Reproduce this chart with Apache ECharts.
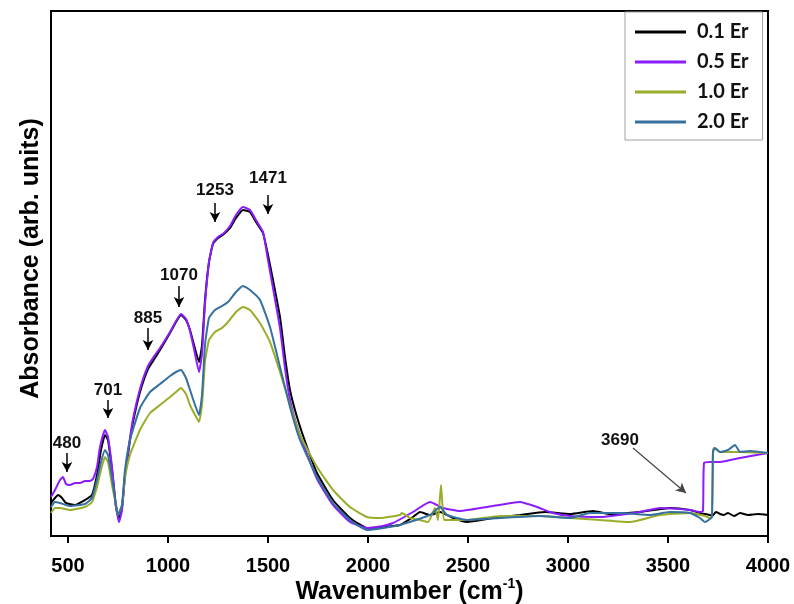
<!DOCTYPE html>
<html>
<head>
<meta charset="utf-8">
<script src="https://cdn.jsdelivr.net/npm/echarts@6/dist/echarts.min.js"></script>
<style>
  html, body { margin: 0; padding: 0; background: #fff; }
  #chart { width: 794px; height: 604px; }
</style>
</head>
<body>
<div id="chart"></div>
<script>
// FTIR spectra, [wavenumber, absorbance (arb. units)]
var er01 = [
  [415, 33], [435, 38], [450, 41], [470, 38], [490, 33], [535, 31], [585, 36], [620, 41],
  [645, 61], [665, 86], [685, 101], [700, 96], [720, 66], [740, 29], [755, 18], [770, 28],
  [785, 61], [795, 74], [810, 96], [825, 114], [860, 144], [900, 167], [935, 178], [960, 186],
  [1010, 203], [1040, 214], [1065, 221], [1090, 216], [1110, 206], [1130, 191], [1155, 174],
  [1170, 191], [1185, 236], [1205, 274], [1225, 292], [1250, 298], [1280, 302], [1310, 308],
  [1340, 318], [1375, 326], [1410, 324], [1440, 314], [1475, 303], [1500, 281], [1525, 256],
  [1560, 219], [1585, 179], [1610, 146], [1645, 119], [1695, 89], [1745, 63], [1825, 36],
  [1910, 18], [1995, 8], [2075, 9], [2160, 11], [2225, 19], [2260, 24], [2310, 21], [2360, 24],
  [2425, 18], [2495, 14], [2625, 18], [2760, 21], [2885, 24], [3010, 22], [3125, 25], [3210, 22],
  [3360, 24], [3510, 28], [3610, 26], [3660, 23], [3710, 21], [3720, 20], [3740, 24], [3760, 22],
  [3780, 21], [3800, 23], [3830, 20], [3860, 23], [3900, 21], [3950, 22], [4000, 21]
];
var er05 = [
  [415, 39], [435, 46], [460, 56], [475, 59], [490, 52], [510, 51], [535, 53], [560, 53],
  [585, 55], [610, 55], [625, 57], [645, 69], [660, 89], [685, 106], [700, 99], [720, 69],
  [740, 29], [755, 14], [770, 26], [785, 61], [795, 76], [810, 98], [825, 117], [860, 147],
  [900, 170], [935, 181], [960, 188], [1010, 204], [1040, 215], [1065, 222], [1090, 217],
  [1110, 205], [1130, 187], [1155, 164], [1170, 182], [1185, 232], [1205, 274], [1225, 293],
  [1250, 299], [1280, 303], [1310, 310], [1340, 321], [1375, 329], [1410, 326], [1440, 316],
  [1475, 304], [1500, 276], [1525, 248], [1560, 208], [1585, 168], [1610, 136], [1645, 110],
  [1695, 82], [1745, 57], [1825, 31], [1910, 14], [1995, 8], [2075, 10], [2125, 13], [2225, 24],
  [2310, 34], [2375, 28], [2460, 25], [2595, 29], [2760, 34], [2845, 29], [2925, 23], [3010, 20],
  [3160, 19], [3360, 24], [3460, 28], [3610, 26], [3660, 24], [3675, 25], [3680, 73], [3710, 74],
  [3760, 74], [3860, 78], [4000, 83]
];
var er10 = [
  [415, 23], [435, 28], [460, 28], [510, 26], [585, 29], [620, 34], [645, 49], [665, 66],
  [685, 79], [700, 74], [720, 51], [740, 31], [750, 21], [770, 31], [785, 58], [810, 81],
  [860, 106], [910, 123], [960, 131], [1010, 139], [1040, 144], [1065, 148], [1090, 142],
  [1110, 131], [1135, 121], [1155, 114], [1170, 131], [1185, 174], [1205, 196], [1235, 204],
  [1270, 208], [1300, 214], [1340, 224], [1375, 229], [1410, 226], [1460, 213], [1510, 194],
  [1560, 164], [1610, 131], [1660, 101], [1745, 69], [1825, 46], [1910, 29], [1995, 19],
  [2060, 18], [2160, 21], [2170, 23], [2210, 18], [2260, 16], [2300, 14], [2335, 28], [2350, 16],
  [2365, 51], [2380, 16], [2410, 16], [2495, 16], [2660, 20], [2860, 20], [3010, 18], [3160, 16],
  [3310, 14], [3460, 21], [3610, 23], [3685, 20], [3710, 18], [3720, 18], [3725, 86], [3730, 88],
  [3760, 84], [3860, 84], [4000, 83]
];
var er20 = [
  [415, 29], [435, 34], [460, 33], [510, 30], [585, 32], [620, 38], [645, 56], [665, 74],
  [685, 86], [700, 81], [720, 58], [740, 31], [750, 21], [770, 31], [785, 66], [810, 96],
  [860, 128], [910, 144], [960, 152], [1010, 160], [1040, 164], [1065, 166], [1090, 158],
  [1110, 146], [1135, 131], [1155, 121], [1170, 141], [1185, 191], [1205, 218], [1235, 226],
  [1270, 230], [1300, 234], [1340, 244], [1375, 250], [1410, 246], [1460, 236], [1510, 209],
  [1560, 169], [1610, 129], [1660, 96], [1745, 59], [1825, 33], [1910, 16], [1995, 6],
  [2160, 11], [2310, 21], [2360, 29], [2395, 21], [2495, 16], [2660, 18], [2860, 20], [3010, 18],
  [3110, 23], [3260, 23], [3410, 21], [3510, 24], [3610, 23], [3660, 18], [3685, 14], [3710, 17],
  [3720, 19], [3725, 84], [3735, 88], [3760, 84], [3800, 86], [3835, 91], [3860, 84], [3910, 85],
  [4000, 83]
];

var seriesNames = ['0.1 Er', '0.5 Er', '1.0 Er', '2.0 Er'];
var seriesColors = ['#000000', '#8a1cff', '#9aad2a', '#35709f'];
var xTicks = [500, 1000, 1500, 2000, 2500, 3000, 3500, 4000];

// peak annotations: label, x, label y, arrow from y, arrow to y
var peakLabels = ['480', '701', '885', '1070', '1253', '1471'];
var peakX = [495, 700, 900, 1055, 1235, 1500];
var peakLabelY = [93, 146, 218, 261, 346, 358];
var peakArrowTop = [83, 136, 208, 250, 333, 341];
var peakArrowBottom = [64, 118, 186, 229, 314, 322];
// 3690 annotation: label position and slanted arrow
var oh = { label: '3690', at: [3260, 96], from: [3325, 88], to: [3590, 43] };

var myChart = echarts.init(document.getElementById('chart'));

var arrowData = peakX.map(function (x, i) {
  return [{ coord: [x, peakArrowTop[i]] }, { coord: [x, peakArrowBottom[i]] }];
});
arrowData.push([{ coord: oh.from, lineStyle: { color: '#444', width: 1.2 } }, { coord: oh.to }]);

var labelData = peakX.map(function (x, i) {
  return { value: [x, peakLabelY[i]], label: { formatter: peakLabels[i] } };
});
labelData.push({ value: oh.at, label: { formatter: oh.label } });

var lines = [er01, er05, er10, er20].map(function (d, i) {
  return {
    name: seriesNames[i],
    type: 'line',
    data: d,
    showSymbol: false,
    symbol: 'none',
    smooth: 0.15,
    lineStyle: { color: seriesColors[i], width: 2 },
    itemStyle: { color: seriesColors[i] },
    z: 2 + i
  };
});

var option = {
  animation: false,
  grid: {
    left: 51, right: 26, top: 11, bottom: 68,
    outerBoundsMode: 'none',
    containLabel: false,
    show: true, borderColor: '#000', borderWidth: 2
  },
  legend: {
    data: seriesNames,
    orient: 'vertical',
    left: 625, top: 12,
    icon: 'rect',
    itemWidth: 51, itemHeight: 3,
    itemGap: 10,
    padding: [10, 14, 8, 10],
    backgroundColor: '#fff',
    borderColor: '#a0a0a0',
    borderWidth: 1,
    textStyle: { fontFamily: 'Lato', fontWeight: 'bold', fontSize: 20, color: '#111', padding: [0, 0, 0, 6] }
  },
  xAxis: {
    type: 'value',
    min: 415, max: 4000,
    name: '{b|Wavenumber (cm}{s|-1}{b|)}',
    nameLocation: 'middle',
    nameGap: 41,
    nameMoveOverlap: false,
    nameTextStyle: {
      rich: {
        b: { fontFamily: 'Liberation Sans', fontWeight: 'bold', fontSize: 25, color: '#000' },
        s: { fontFamily: 'Liberation Sans', fontWeight: 'bold', fontSize: 14, color: '#000', padding: [0, 0, 16, 0] }
      }
    },
    splitLine: { show: false },
    axisLine: { lineStyle: { color: '#000', width: 2 } },
    axisTick: { customValues: xTicks, length: 7, lineStyle: { color: '#000', width: 2 } },
    axisLabel: {
      customValues: xTicks, margin: 20,
      formatter: function (v) { return String(v); },
      fontFamily: 'Liberation Sans', fontWeight: 'bold', fontSize: 20, color: '#000'
    }
  },
  yAxis: {
    type: 'value',
    min: 0, max: 525,
    name: 'Absorbance (arb. units)',
    nameLocation: 'middle',
    nameGap: 7,
    nameTextStyle: {
      fontFamily: 'Liberation Sans', fontWeight: 'bold', fontSize: 25, color: '#000',
      padding: [0, 0, 0, 30]
    },
    splitLine: { show: false },
    axisLine: { show: true, lineStyle: { color: '#000', width: 2 } },
    axisTick: { show: false },
    axisLabel: { show: false }
  },
  series: lines.concat([
    {
      name: 'arrows',
      type: 'line',
      data: [],
      markLine: {
        silent: true,
        symbol: ['none', 'arrow'],
        symbolSize: [8, 10],
        label: { show: false },
        lineStyle: { color: '#000', width: 1.5, type: 'solid' },
        data: arrowData
      }
    },
    {
      name: 'labels',
      type: 'scatter',
      symbolSize: 0,
      itemStyle: { opacity: 1, color: '#000' },
      data: labelData,
      label: {
        show: true, position: 'inside',
        fontFamily: 'Liberation Sans', fontWeight: 'bold', fontSize: 17, color: '#111'
      },
      z: 10
    }
  ])
};
myChart.setOption(option);
</script>
</body>
</html>
